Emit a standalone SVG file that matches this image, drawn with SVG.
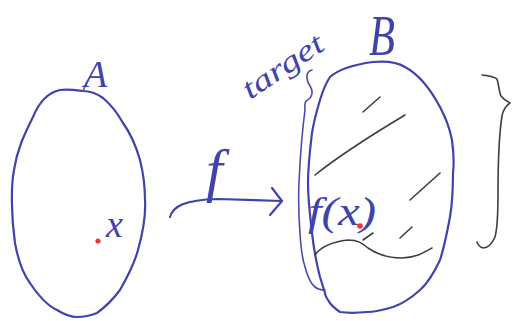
<svg xmlns="http://www.w3.org/2000/svg" width="513" height="321" viewBox="0 0 513 321">
<style>
.pen{fill:none;stroke:#4143ad;stroke-width:2.2;stroke-linecap:round;stroke-linejoin:round}
.thin{fill:none;stroke:#4a4cb0;stroke-width:1.6;stroke-linecap:round;stroke-linejoin:round}
.ink{fill:none;stroke:#3c3c44;stroke-width:1.6;stroke-linecap:round;stroke-linejoin:round}
.lbl{fill:#4143ad;font-family:"Liberation Serif",serif;font-style:italic}
.dot{fill:#e23a3a}
</style>
<rect width="513" height="321" fill="#ffffff"/>
<g id="A">
<path class="pen" d="M60,90 C50,92 40,100 33,117 C24,135 17,150 14,170 C11,185 11,215 15,243 C19,265 24,275 30,283 C40,298 48,306 57,310 C65,315 71,317 77,317 C85,317 92,315 97,313 C108,305 114,298 120,290 C128,276 134,265 138,250 C143,232 146,215 145,200 C145,185 143,172 140,160 C136,146 131,134 123,123 C117,112 110,104 103,98 C96,93 90,91 83,91 C75,90 68,89 60,90 Z"/>
<path class="thin" d="M83,91 L87,82"/>
<text class="lbl" x="84" y="87" font-size="38">A</text>
<text class="lbl" x="106" y="237" font-size="38">x</text>
<circle class="dot" cx="98" cy="241" r="2.6"/>
</g>
<g id="connectors">
<path class="pen" d="M170,217 C173,206 185,200 217,199 L282,201"/>
<path class="pen" d="M272,188 L282,201 L270,215"/>
<text class="lbl" x="206" y="190" font-size="60">f</text>
</g>
<g id="target">
<text class="lbl" x="250" y="100" font-size="30" textLength="92" lengthAdjust="spacingAndGlyphs" transform="rotate(-34 250 100)">target</text>
<path class="thin" d="M312,70 C305,72 306,80 310,86 C314,92 312,98 306,101 C304,104 305,108 305,110 C303,125 300,160 299,183 C298,205 299,220 300,233 C301,250 302,258 305,267 C308,278 311,284 315,287 C319,290 322,290 325,290"/>
</g>
<g id="B">
<path class="pen" d="M330,77 C338,70 350,65 373,62 C385,61 397,62 405,67 C420,75 432,92 440,107 C447,120 450,130 452,140 C454,155 454,165 453,173 C453,190 452,205 450,217 C447,233 444,248 440,260 C433,275 428,283 420,290 C410,299 402,304 393,307 C383,310 375,312 367,312 C357,313 347,313 340,312 C334,308 330,304 328,300 C326,297 325,295 325,293 C323,287 322,283 320,277 C316,262 314,250 312,233 C310,215 308,200 308,183 C308,165 310,150 312,133 C314,120 317,110 320,100 C323,90 326,83 330,77 Z"/>
<text class="lbl" x="369" y="55" font-size="56" font-style="normal" textLength="26" lengthAdjust="spacingAndGlyphs">B</text>
<path class="ink" d="M363,112 L380,97"/>
<path class="ink" d="M315,175 C340,155 375,133 405,115"/>
<path class="ink" d="M410,200 L440,173"/>
<path class="ink" d="M400,238 L412,227"/>
<path class="ink" d="M363,240 L373,233"/>
<path class="ink" d="M315,255 C320,248 330,242 348,240 C358,240 362,243 368,248 C378,255 390,258 402,258 C415,258 425,252 432,248"/>
<text class="lbl" x="308" y="225" font-size="40" textLength="68" lengthAdjust="spacingAndGlyphs">f(x)</text>
<circle class="dot" cx="360" cy="226" r="2.8"/>
</g>
<g id="brace">
<path class="ink" d="M482,75 C490,76 495,77 497,79 C499,85 499,92 501,96 C504,100 508,102 510,103 C506,106 503,110 502,116 C499,135 498,165 498,193 C498,215 497,230 495,237 C492,244 488,248 483,248 C480,247 478,245 477,242"/>
</g>
</svg>
